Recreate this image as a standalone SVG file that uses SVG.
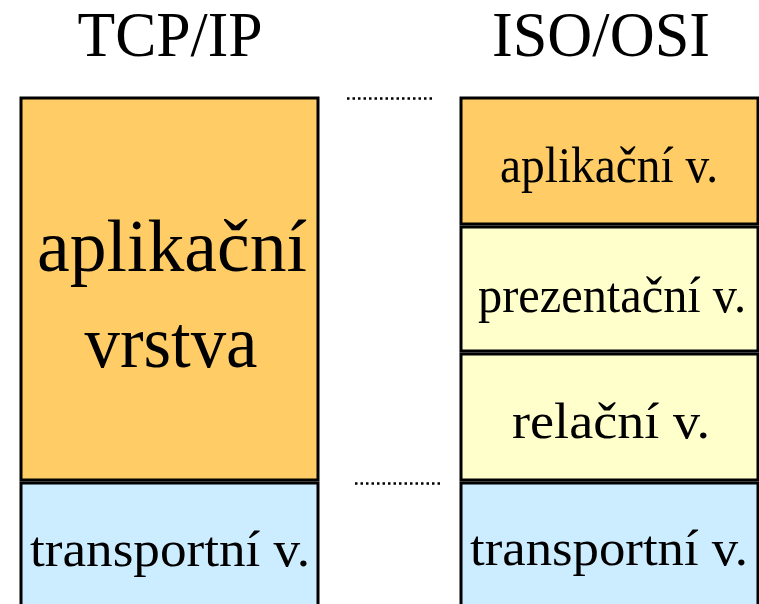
<svg xmlns="http://www.w3.org/2000/svg" width="759" height="604" viewBox="0 0 759 604">
<style>
text{font-family:"Liberation Serif","Times New Roman",serif;fill:#000;text-anchor:middle}
.box{stroke:#000;stroke-width:3}
.app{fill:#FFCC66}
.yel{fill:#FFFFCC}
.blu{fill:#CCECFF}
.dot{stroke:#000;stroke-width:2.5;stroke-dasharray:2.5 3;fill:none}
.h{font-size:63px}
.big{font-size:74px}
.m{font-size:50px}
</style>
<text class="h" x="170" y="56" textLength="185" lengthAdjust="spacingAndGlyphs">TCP/IP</text>
<text class="h" x="601" y="56" textLength="218" lengthAdjust="spacingAndGlyphs">ISO/OSI</text>
<g id="tcp-app"><rect class="box app" x="21" y="98" width="297" height="382"/><text class="big" x="172" y="271" textLength="270" lengthAdjust="spacingAndGlyphs">aplikační</text><text class="big" x="171" y="367" textLength="173" lengthAdjust="spacingAndGlyphs">vrstva</text></g>
<g id="tcp-trans"><rect class="box blu" x="21" y="483" width="297" height="130"/><text class="m" x="170" y="566" textLength="280" lengthAdjust="spacingAndGlyphs">transportní v.</text></g>
<g id="osi-app"><rect class="box app" x="461" y="98" width="297" height="126"/><text class="m" x="609" y="182" textLength="218" lengthAdjust="spacingAndGlyphs">aplikační v.</text></g>
<g id="osi-pres"><rect class="box yel" x="461" y="227" width="297" height="124"/><text class="m" x="612" y="312" textLength="268" lengthAdjust="spacingAndGlyphs">prezentační v.</text></g>
<g id="osi-rel"><rect class="box yel" x="461" y="354" width="297" height="126"/><text class="m" x="611" y="438" textLength="198" lengthAdjust="spacingAndGlyphs">relační v.</text></g>
<g id="osi-trans"><rect class="box blu" x="461" y="483" width="297" height="130"/><text class="m" x="609" y="565" textLength="278" lengthAdjust="spacingAndGlyphs">transportní v.</text></g>
<g id="connectors"><line class="dot" x1="347" y1="98.5" x2="435" y2="98.5"/><line class="dot" x1="355" y1="483.5" x2="443" y2="483.5"/></g>
</svg>
